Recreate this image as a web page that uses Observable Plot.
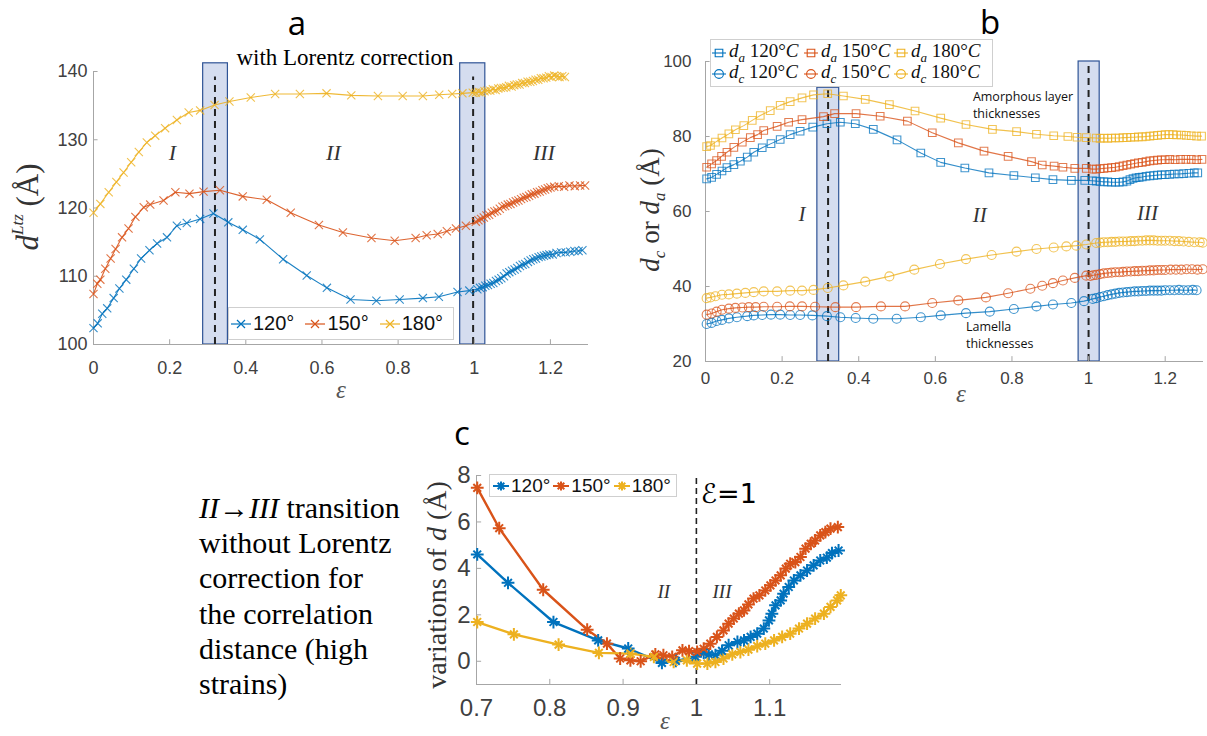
<!DOCTYPE html>
<html><head><meta charset="utf-8">
<script src="https://cdn.jsdelivr.net/npm/d3@7"></script>
<script src="https://cdn.jsdelivr.net/npm/@observablehq/plot@0.6"></script>
<style>
body{margin:0;background:#fff}
#root{position:relative;width:1207px;height:736px;overflow:hidden;background:#fff}
.t{position:absolute;white-space:nowrap;line-height:1.2}
.leg{position:absolute;background:#fff;border:1px solid #cfcfcf;box-sizing:border-box;display:flex;align-items:center}
.item{display:flex;align-items:center;white-space:nowrap}
svg.sw{display:block}
</style>
</head><body><div id="root"></div>
<script>
// ---------- DATA ----------
const temps = ["120", "150", "180"];
const colors = ["#0072BD", "#D95319", "#EDB120"];

// Panel a : d^Ltz vs strain (with Lorentz correction)
const a120 = [[0,102.4],[0.011,103.1],[0.023,104.5],[0.036,105.3],[0.053,106.8],[0.068,108.2],[0.086,109.5],[0.106,111.1],[0.125,112.6],[0.147,113.8],[0.167,114.8],[0.193,115.7],[0.219,117.4],[0.245,117.8],[0.280,118.4],[0.315,119.2],[0.354,117.9],[0.392,116.8],[0.437,115.4],[0.498,112.5],[0.560,110.1],[0.613,108.3],[0.675,106.6],[0.743,106.4],[0.804,106.6],[0.865,106.8],[0.907,107.0],[0.956,107.7],[0.987,107.9],
[1.008,108.1],[1.015,108.3],[1.022,108.4],[1.029,108.6],[1.036,108.7],[1.043,108.9],[1.050,109.0],[1.057,109.3],[1.064,109.5],[1.071,109.7],[1.078,110.0],[1.085,110.4],[1.092,110.6],[1.099,110.8],[1.106,111.0],[1.113,111.2],[1.120,111.5],[1.127,111.7],[1.134,111.8],[1.141,112.1],[1.148,112.3],[1.155,112.5],[1.162,112.6],[1.169,112.8],[1.176,112.9],[1.183,113.0],[1.190,113.1],[1.197,113.2],[1.206,113.2],[1.216,113.4],[1.228,113.5],[1.240,113.5],[1.252,113.6],[1.263,113.7],[1.274,113.7],[1.284,113.8]];
const a150 = [[0,107.4],[0.010,108.9],[0.018,109.5],[0.031,111.1],[0.045,112.6],[0.058,114.0],[0.075,115.7],[0.092,117.0],[0.110,118.7],[0.132,120.1],[0.149,120.5],[0.184,121.1],[0.215,122.3],[0.252,122.1],[0.289,122.4],[0.332,122.6],[0.392,121.7],[0.455,121.2],[0.518,119.3],[0.592,117.5],[0.655,116.4],[0.730,115.6],[0.791,115.2],[0.846,115.6],[0.875,116.0],[0.904,116.2],[0.928,116.6],[0.952,117.0],[0.978,117.4],
[1.004,118.0],[1.011,118.2],[1.018,118.4],[1.025,118.6],[1.032,118.9],[1.039,119.0],[1.046,119.3],[1.053,119.5],[1.060,119.6],[1.067,119.9],[1.074,120.2],[1.081,120.3],[1.088,120.5],[1.095,120.6],[1.102,120.8],[1.109,121.0],[1.116,121.1],[1.123,121.3],[1.130,121.5],[1.137,121.6],[1.144,121.8],[1.151,122.0],[1.158,122.1],[1.165,122.3],[1.172,122.4],[1.179,122.6],[1.186,122.7],[1.193,122.9],[1.200,123.0],[1.210,123.1],[1.222,123.2],[1.236,123.1],[1.250,123.3],[1.264,123.2],[1.278,123.3],[1.291,123.3]];
const a180 = [[0,119.3],[0.018,120.6],[0.040,122.3],[0.060,123.8],[0.079,125.2],[0.099,126.7],[0.119,128.2],[0.140,129.6],[0.162,130.6],[0.188,131.7],[0.219,132.9],[0.250,134.0],[0.280,134.3],[0.318,135.1],[0.357,135.6],[0.413,136.2],[0.477,136.7],[0.542,136.7],[0.612,136.8],[0.677,136.5],[0.747,136.4],[0.812,136.4],[0.865,136.4],[0.908,136.6],[0.942,136.7],[0.969,136.8],[0.996,136.9],
[1.004,136.9],[1.012,137.0],[1.019,136.9],[1.027,137.1],[1.034,137.2],[1.042,137.2],[1.049,137.4],[1.056,137.3],[1.063,137.5],[1.070,137.6],[1.077,137.6],[1.084,137.7],[1.091,137.9],[1.098,137.8],[1.105,138.0],[1.112,138.1],[1.119,138.1],[1.126,138.3],[1.133,138.3],[1.140,138.5],[1.147,138.5],[1.154,138.6],[1.161,138.8],[1.168,138.8],[1.175,139.0],[1.182,139.0],[1.189,139.1],[1.196,139.3],[1.203,139.2],[1.210,139.4],[1.217,139.3],[1.224,139.2],[1.231,139.3],[1.238,139.2]];
const bandsA = [{x1:0.288, x2:0.353, mid:0.319, top:141.2}, {x1:0.963, x2:1.029, mid:0.997, top:141.2}];
const ticksAx = [0, 0.2, 0.4, 0.6, 0.8, 1, 1.2];
const ticksAy = [100, 110, 120, 130, 140];

// Panel b : amorphous (da) and lamella (dc) thicknesses
const da120 = [[0.003,68.7],[0.016,69.1],[0.029,69.9],[0.043,70.8],[0.056,71.7],[0.074,72.5],[0.091,73.4],[0.109,74.5],[0.126,75.8],[0.148,77.0],[0.171,78.1],[0.195,79.2],[0.221,80.5],[0.247,81.4],[0.280,82.5],[0.317,83.4],[0.352,83.8],[0.391,83.4],[0.438,81.9],[0.500,79.1],[0.562,75.6],[0.614,73.1],[0.677,71.6],[0.740,70.3],[0.805,69.6],[0.861,69.0],[0.907,68.5],[0.955,68.3],[0.990,68.3],
[1.010,68.2],[1.020,68.1],[1.030,68.0],[1.040,67.9],[1.050,67.9],[1.060,67.8],[1.070,67.8],[1.080,67.8],[1.090,67.9],[1.100,68.1],[1.108,68.5],[1.116,68.8],[1.124,69.0],[1.132,69.1],[1.140,69.2],[1.150,69.4],[1.160,69.5],[1.170,69.6],[1.180,69.7],[1.190,69.8],[1.200,69.8],[1.212,69.9],[1.224,70.0],[1.236,70.0],[1.248,70.1],[1.262,70.2],[1.276,70.3],[1.285,70.3]];
const da150 = [[0.003,71.8],[0.016,72.7],[0.029,73.6],[0.042,74.7],[0.056,75.8],[0.074,77.1],[0.096,78.5],[0.117,79.7],[0.136,80.5],[0.152,81.6],[0.187,82.7],[0.217,83.8],[0.252,84.5],[0.308,85.3],[0.337,86.1],[0.393,86.1],[0.456,85.4],[0.527,84.1],[0.592,81.0],[0.660,78.3],[0.727,76.1],[0.790,74.7],[0.851,73.3],[0.879,72.4],[0.910,72.1],[0.933,71.8],[0.964,71.5],[0.994,71.5],
[1.010,71.3],[1.020,71.3],[1.030,71.4],[1.040,71.5],[1.050,71.6],[1.060,71.7],[1.070,71.8],[1.080,72.0],[1.090,72.2],[1.100,72.4],[1.110,72.6],[1.120,72.8],[1.130,73.0],[1.140,73.1],[1.150,73.3],[1.160,73.5],[1.170,73.6],[1.180,73.7],[1.190,73.8],[1.200,73.8],[1.212,73.9],[1.226,73.8],[1.240,73.9],[1.254,73.9],[1.268,73.9],[1.282,73.8],[1.296,73.9]];
const da180 = [[0.003,77.3],[0.013,77.6],[0.026,78.5],[0.043,79.6],[0.061,80.7],[0.078,81.8],[0.100,82.9],[0.122,84.3],[0.143,85.6],[0.169,86.9],[0.195,88.3],[0.221,89.3],[0.252,90.3],[0.282,91.1],[0.319,91.4],[0.360,90.8],[0.417,89.9],[0.480,88.5],[0.547,86.8],[0.614,84.9],[0.680,83.2],[0.749,81.9],[0.812,81.3],[0.864,80.6],[0.909,80.2],[0.946,80.0],[0.970,79.8],[0.994,79.7],
[1.020,79.6],[1.030,79.5],[1.040,79.6],[1.050,79.5],[1.060,79.6],[1.070,79.6],[1.080,79.6],[1.090,79.7],[1.100,79.7],[1.110,79.8],[1.120,79.8],[1.130,79.9],[1.140,79.9],[1.150,80.0],[1.160,80.1],[1.170,80.2],[1.180,80.3],[1.190,80.4],[1.200,80.5],[1.210,80.5],[1.220,80.5],[1.230,80.4],[1.242,80.4],[1.255,80.3],[1.268,80.2],[1.282,80.1],[1.295,80.1]];
const dc120 = [[0.003,30.0],[0.016,30.3],[0.029,30.8],[0.043,31.1],[0.061,31.5],[0.082,31.8],[0.109,32.1],[0.126,32.3],[0.148,32.4],[0.171,32.5],[0.195,32.5],[0.221,32.4],[0.247,32.4],[0.279,32.3],[0.317,32.1],[0.352,31.8],[0.392,31.6],[0.438,31.4],[0.499,31.4],[0.562,31.8],[0.614,32.3],[0.680,32.9],[0.742,33.3],[0.805,34.0],[0.864,34.7],[0.907,35.2],[0.955,35.6],[0.988,36.1],[1.011,36.7],
[1.020,36.9],[1.030,37.2],[1.040,37.4],[1.050,37.7],[1.060,37.9],[1.070,38.1],[1.080,38.3],[1.090,38.4],[1.100,38.5],[1.110,38.6],[1.120,38.7],[1.130,38.7],[1.140,38.8],[1.150,38.8],[1.160,38.9],[1.170,38.9],[1.180,38.9],[1.190,38.9],[1.200,39.0],[1.212,39.0],[1.224,39.0],[1.236,39.1],[1.248,39.0],[1.260,39.0],[1.272,39.1],[1.282,39.0]];
const dc150 = [[0.003,32.5],[0.016,32.8],[0.029,33.3],[0.043,33.8],[0.061,34.1],[0.078,34.3],[0.096,34.4],[0.113,34.5],[0.131,34.5],[0.152,34.6],[0.187,34.6],[0.220,34.7],[0.252,34.7],[0.286,34.6],[0.339,34.5],[0.393,34.5],[0.458,34.7],[0.521,34.7],[0.592,35.6],[0.660,36.3],[0.732,37.1],[0.790,38.2],[0.848,39.4],[0.879,40.2],[0.907,40.9],[0.933,41.6],[0.964,42.3],[0.994,42.9],
[1.005,42.8],[1.012,43.0],[1.020,43.1],[1.030,43.3],[1.040,43.5],[1.050,43.6],[1.060,43.7],[1.070,43.8],[1.080,43.8],[1.090,43.9],[1.100,44.0],[1.110,44.0],[1.120,44.1],[1.130,44.1],[1.140,44.2],[1.150,44.2],[1.160,44.3],[1.170,44.3],[1.180,44.4],[1.190,44.4],[1.200,44.4],[1.214,44.5],[1.228,44.5],[1.242,44.5],[1.256,44.6],[1.270,44.6],[1.284,44.5],[1.298,44.6]];
const dc180 = [[0.003,36.9],[0.013,37.1],[0.026,37.4],[0.043,37.8],[0.061,37.9],[0.082,38.1],[0.104,38.3],[0.126,38.5],[0.152,38.7],[0.187,38.7],[0.221,38.9],[0.252,38.9],[0.282,39.1],[0.319,39.6],[0.360,40.3],[0.417,41.3],[0.480,42.7],[0.545,44.5],[0.612,46.0],[0.680,47.3],[0.747,48.4],[0.812,49.3],[0.864,50.0],[0.909,50.4],[0.942,50.7],[0.968,50.9],[0.994,51.2],[1.020,51.6],
[1.030,51.7],[1.040,51.8],[1.050,51.8],[1.060,51.9],[1.070,51.9],[1.080,52.0],[1.090,52.0],[1.100,52.0],[1.110,52.1],[1.120,52.1],[1.130,52.2],[1.140,52.2],[1.150,52.3],[1.160,52.3],[1.170,52.3],[1.180,52.2],[1.190,52.2],[1.200,52.2],[1.212,52.2],[1.224,52.1],[1.236,52.1],[1.248,52.0],[1.262,51.9],[1.276,51.8],[1.290,51.8],[1.298,51.7]];
const bandsB = [{x1:0.292, x2:0.349, mid:0.320, top:93}, {x1:0.974, x2:1.029, mid:1.0, top:100}];
const ticksBx = [0, 0.2, 0.4, 0.6, 0.8, 1, 1.2];
const ticksBy = [20, 40, 60, 80, 100];

// Panel c : variations of d without Lorentz correction
const c120 = [[0.701,4.60],[0.743,3.38],[0.805,1.69],[0.866,0.90],[0.907,0.55],[0.953,-0.07],[0.972,0.02],[0.999,0.19],[1.010,0.36],[1.017,0.30],[1.026,0.26],[1.035,0.45],[1.044,0.69],[1.056,0.83],[1.065,0.90],[1.074,1.05],[1.083,1.19],[1.092,1.41],[1.099,1.76],[1.103,2.05],[1.108,2.41],[1.115,2.62],[1.119,2.91],[1.126,3.20],[1.133,3.48],[1.142,3.70],[1.151,3.91],[1.160,4.13],[1.169,4.34],[1.178,4.46],[1.185,4.66],[1.194,4.77]];
const c150 = [[0.701,7.47],[0.731,5.73],[0.791,3.08],[0.851,1.36],[0.878,0.76],[0.896,0.12],[0.910,0.04],[0.924,0.00],[0.944,0.30],[0.955,0.26],[0.967,0.19],[0.981,0.47],[0.990,0.44],[1.001,0.40],[1.010,0.54],[1.019,0.76],[1.028,1.05],[1.037,1.33],[1.044,1.62],[1.051,1.84],[1.058,2.05],[1.065,2.19],[1.071,2.45],[1.078,2.70],[1.086,2.84],[1.094,3.05],[1.101,3.27],[1.108,3.48],[1.115,3.70],[1.122,3.99],[1.128,4.20],[1.135,4.27],[1.142,4.49],[1.149,4.85],[1.156,5.06],[1.162,5.20],[1.169,5.42],[1.176,5.56],[1.183,5.71],[1.193,5.78]];
const c180 = [[0.701,1.69],[0.751,1.16],[0.812,0.72],[0.867,0.36],[0.910,0.33],[0.942,0.19],[0.969,-0.03],[0.987,0.04],[1.001,-0.10],[1.015,-0.10],[1.026,-0.03],[1.037,0.12],[1.049,0.30],[1.060,0.40],[1.071,0.50],[1.083,0.65],[1.094,0.76],[1.106,0.90],[1.117,1.05],[1.128,1.19],[1.140,1.41],[1.151,1.62],[1.162,1.84],[1.174,2.05],[1.183,2.34],[1.192,2.62],[1.197,2.84]];
const ticksCx = [0.7, 0.8, 0.9, 1, 1.1];
const ticksCy = [0, 2, 4, 6, 8];

// ---------- helpers ----------
const root = document.getElementById("root");
const AX = "#404040", AXLINE = "#a6a6a6", BANDFILL = "#d5ddef", BANDSTROKE = "#2f5496";
const rows = (pts, s) => pts.map(([x, y]) => ({x, y, s}));
const colorScale = {domain: temps, range: colors};
const sansFont = "'Liberation Sans', Arial, sans-serif";
const serif = "'Liberation Serif', 'Times New Roman', serif";

function place(svg, left, top) {
  svg.style.position = "absolute";
  svg.style.left = left + "px";
  svg.style.top = top + "px";
  svg.style.background = "transparent";
  svg.style.overflow = "visible";
  root.appendChild(svg);
}
function text(html, x, y, css, rot) {
  const d = document.createElement("div");
  d.className = "t";
  d.innerHTML = html;
  d.style.cssText += css;
  d.style.left = x + "px";
  d.style.top = y + "px";
  d.style.transform = "translate(-50%,-50%)" + (rot ? ` rotate(${rot}deg)` : "");
  root.appendChild(d);
}
const symPaths = {
  times: "M-4,-4L4,4M-4,4L4,-4",
  square: "M-3.8,-3.8H3.8V3.8H-3.8Z",
  circle: "M4.4,0A4.4,4.4 0 1 1 -4.4,0A4.4,4.4 0 1 1 4.4,0",
  asterisk: "M-4.5,0H4.5M0,-4.5V4.5M-3.3,-3.3L3.3,3.3M-3.3,3.3L3.3,-3.3"
};
function swatch(color, sym, w, sw) {
  return `<svg class="sw" width="${w}" height="20" viewBox="0 0 ${w} 20"><line x1="1" x2="${w-1}" y1="10" y2="10" stroke="${color}" stroke-width="${sw}"/><path transform="translate(${w/2},10)" d="${symPaths[sym]}" fill="none" stroke="${color}" stroke-width="${sw}"/></svg>`;
}

// ---------- Panel a ----------
const dataA = [...rows(a120, "120"), ...rows(a150, "150"), ...rows(a180, "180")];
const pa = Plot.plot({
  width: 600, height: 380, marginLeft: 93, marginRight: 12, marginTop: 31, marginBottom: 76,
  x: {domain: [0, 1.3], label: null}, y: {domain: [100, 140], label: null},
  color: colorScale,
  style: {fontFamily: sansFont, fontSize: "18px", color: AX, background: "transparent"},
  marks: [
    Plot.rect(bandsA, {x1: "x1", x2: "x2", y1: 100, y2: "top", fill: BANDFILL, stroke: BANDSTROKE, strokeWidth: 1.2}),
    Plot.ruleX(bandsA, {x: "mid", y1: 100, y2: 139.2, stroke: "#222", strokeWidth: 2, strokeDasharray: "7,5"}),
    Plot.ruleY([100], {stroke: AXLINE}),
    Plot.ruleX([0], {stroke: AXLINE}),
    Plot.ruleX(ticksAx, {y1: 100, y2: 100.7, stroke: AXLINE}),
    Plot.ruleY(ticksAy, {x1: 0, x2: 0.012, stroke: AXLINE}),
    Plot.line(dataA, {x: "x", y: "y", z: "s", stroke: "s", strokeWidth: 1.1, strokeOpacity: 0.9}),
    Plot.dot(dataA, {x: "x", y: "y", stroke: "s", symbol: "times", r: 3.8, strokeWidth: 1.1, strokeOpacity: 0.8}),
    Plot.text([{x: 0.207, y: 128.1, t: "I"}, {x: 0.63, y: 128.1, t: "II"}, {x: 1.183, y: 128.1, t: "III"}],
      {x: "x", y: "y", text: "t", fontFamily: serif, fontStyle: "italic", fontSize: 22, fill: "#333"}),
    Plot.axisX({ticks: ticksAx, tickFormat: d => String(d), tickSize: 0, tickPadding: 17, fontSize: 18, color: AX, label: null}),
    Plot.axisY({ticks: ticksAy, tickFormat: d => String(d), tickSize: 0, tickPadding: 6, fontSize: 18, color: AX, label: null})
  ]
});
place(pa, 0, 40);

// ---------- Panel b ----------
const dataBa = [...rows(da120, "120"), ...rows(da150, "150"), ...rows(da180, "180")];
const dataBc = [...rows(dc120, "120"), ...rows(dc150, "150"), ...rows(dc180, "180")];
const pb = Plot.plot({
  width: 607, height: 380, marginLeft: 105, marginRight: 4, marginTop: 31, marginBottom: 49,
  x: {domain: [0, 1.3], label: null}, y: {domain: [20, 100], label: null},
  color: colorScale,
  style: {fontFamily: sansFont, fontSize: "17px", color: AX, background: "transparent"},
  marks: [
    Plot.rect(bandsB, {x1: "x1", x2: "x2", y1: 20, y2: "top", fill: BANDFILL, stroke: BANDSTROKE, strokeWidth: 1.2}),
    Plot.ruleX(bandsB, {x: "mid", y1: 20, y2: "top", stroke: "#222", strokeWidth: 2, strokeDasharray: "7,5"}),
    Plot.ruleY([20], {stroke: AXLINE}),
    Plot.ruleX([0], {stroke: AXLINE}),
    Plot.ruleX(ticksBx, {y1: 20, y2: 21.3, stroke: AXLINE}),
    Plot.ruleY(ticksBy, {x1: 0, x2: 0.012, stroke: AXLINE}),
    Plot.line(dataBa, {x: "x", y: "y", z: "s", stroke: "s", strokeWidth: 1.1, strokeOpacity: 0.8}),
    Plot.line(dataBc, {x: "x", y: "y", z: "s", stroke: "s", strokeWidth: 1.1, strokeOpacity: 0.8}),
    Plot.dot(dataBa, {x: "x", y: "y", stroke: "s", fill: "none", symbol: "square", r: 4.3, strokeWidth: 1.1, strokeOpacity: 0.75}),
    Plot.dot(dataBc, {x: "x", y: "y", stroke: "s", fill: "none", symbol: "circle", r: 4.5, strokeWidth: 1.1, strokeOpacity: 0.75}),
    Plot.text([{x: 0.252, y: 59.2, t: "I"}, {x: 0.716, y: 59.0, t: "II"}, {x: 1.154, y: 59.4, t: "III"}],
      {x: "x", y: "y", text: "t", fontFamily: serif, fontStyle: "italic", fontSize: 21, fill: "#333"}),
    Plot.text([{x: 0.698, y: 88.7, t: "Amorphous layer\nthicknesses"}, {x: 0.680, y: 27.4, t: "Lamella\nthicknesses"}],
      {x: "x", y: "y", text: "t", textAnchor: "start", lineHeight: 1.35, fontFamily: "'Open Sans', sans-serif", fontSize: 12.5, fill: "#111"}),
    Plot.axisX({ticks: ticksBx, tickFormat: d => String(d), tickSize: 0, tickPadding: 10, fontSize: 17, color: AX, label: null}),
    Plot.axisY({ticks: ticksBy, tickFormat: d => String(d), tickSize: 0, tickPadding: 14, fontSize: 17, color: AX, label: null})
  ]
});
place(pb, 600, 30);

// ---------- Panel c ----------
const dataC = [...rows(c120, "120"), ...rows(c150, "150"), ...rows(c180, "180")];
const pc = Plot.plot({
  width: 460, height: 296, marginLeft: 76, marginRight: 19, marginTop: 35, marginBottom: 52,
  x: {domain: [0.7, 1.198], label: null}, y: {domain: [-1, 8], label: null},
  color: colorScale,
  style: {fontFamily: sansFont, fontSize: "24px", color: AX, background: "transparent"},
  marks: [
    Plot.ruleY([-1], {stroke: AXLINE}),
    Plot.ruleX([0.7], {stroke: AXLINE}),
    Plot.ruleX(ticksCx, {y1: -1, y2: -0.78, stroke: AXLINE}),
    Plot.ruleY(ticksCy, {x1: 0.7, x2: 0.707, stroke: AXLINE}),
    Plot.ruleX([1], {y1: -1, y2: 8, stroke: "#222", strokeWidth: 1.6, strokeDasharray: "6,4"}),
    Plot.line(dataC, {x: "x", y: "y", z: "s", stroke: "s", strokeWidth: 2.4}),
    Plot.dot(dataC, {x: "x", y: "y", stroke: "s", symbol: "plus", r: 4.2, strokeWidth: 2}),
    Plot.dot(dataC, {x: "x", y: "y", stroke: "s", symbol: "times", r: 3.6, strokeWidth: 2}),
    Plot.text([{x: 0.9555, y: 2.98, t: "II"}, {x: 1.035, y: 2.98, t: "III"}],
      {x: "x", y: "y", text: "t", fontFamily: serif, fontStyle: "italic", fontSize: 19, fill: "#333"}),
    Plot.text([{x: 1.006, y: 7.2, t: "ℰ=1"}],
      {x: "x", y: "y", text: "t", textAnchor: "start", fontFamily: "'DejaVu Sans', sans-serif", fontSize: 27, fill: "#000"}),
    Plot.axisX({ticks: ticksCx, tickFormat: d => String(d), tickSize: 0, tickPadding: 14, fontSize: 24, color: AX, label: null}),
    Plot.axisY({ticks: ticksCy, tickFormat: d => String(d), tickSize: 0, tickPadding: 6, fontSize: 24, color: AX, label: null})
  ]
});
place(pc, 400, 440);

// ---------- Titles, axis labels, notes ----------
const letterCss = `font-family:'Open Sans',sans-serif;font-size:33px;line-height:1;color:#000;`;
text("a", 297, 22, letterCss);
text("b", 990, 21, letterCss);
text("c", 462, 432, letterCss);
text("with Lorentz correction", 345, 58, `font-family:${serif};font-size:23px;color:#000;`);

text(`<i>d</i><sup style="font-size:17px;position:relative;top:-4px"><i>Ltz</i></sup> (Å)`, 28, 207,
  `font-family:${serif};font-size:31px;color:#333;`, -90);
text(`<i>d</i><sub style="font-size:17px"><i>c</i></sub> or <i>d</i><sub style="font-size:17px"><i>a</i></sub> (Å)`, 652, 210,
  `font-family:${serif};font-size:27px;color:#333;`, -90);
text(`variations of <i>d</i> (Å)`, 437, 585, `font-family:${serif};font-size:28px;color:#333;`, -90);

const epsCss = `font-family:${serif};font-style:italic;font-size:25px;color:#555;`;
text("ε", 341, 390, epsCss);
text("ε", 961, 394, epsCss);
text("ε", 665, 721, epsCss);

// left note for panel c
const note = document.createElement("div");
note.style.cssText = `position:absolute;left:199px;top:490px;font-family:${serif};font-size:30px;line-height:35.2px;color:#000;white-space:nowrap;`;
note.innerHTML = `<i>II</i>→<i>III</i> transition<br>without Lorentz<br>correction for<br>the correlation<br>distance (high<br>strains)`;
root.appendChild(note);

// ---------- Legends ----------
// panel a
const legA = document.createElement("div");
legA.className = "leg";
legA.style.cssText += "left:228px;top:307px;width:226px;height:33px;padding-left:1px;gap:10px;";
legA.innerHTML = temps.map((t, i) =>
  `<div class="item">${swatch(colors[i], "times", 22, 1.2)}<span style="font-family:${sansFont};font-size:20px;color:#111;margin-left:1px">${t}°</span></div>`).join("");
root.appendChild(legA);

// panel b
const legB = document.createElement("div");
legB.className = "leg";
legB.style.cssText += "left:710px;top:39px;width:283px;height:48px;flex-direction:column;align-items:flex-start;justify-content:center;";
const legRow = (sym, sub) => `<div style="display:flex;height:21px;align-items:center">` + temps.map((t, i) =>
  `<div class="item" style="width:${[92, 90, 96][i]}px">${swatch(colors[i], sym, 16, 1.1)}<span style="font-family:${serif};font-size:19px;color:#111;margin-left:2px"><i>d</i><sub style="font-size:13px"><i>${sub}</i></sub> ${t}°<i>C</i></span></div>`).join("") + `</div>`;
legB.innerHTML = legRow("square", "a") + legRow("circle", "c");
root.appendChild(legB);

// panel c
const legC = document.createElement("div");
legC.className = "leg";
legC.style.cssText += "left:489px;top:474px;width:188px;height:23px;gap:2px;padding-left:2px;";
legC.innerHTML = temps.map((t, i) =>
  `<div class="item">${swatch(colors[i], "asterisk", 18, 2)}<span style="font-family:${sansFont};font-size:19px;color:#111;margin-left:1px">${t}°</span></div>`).join("");
root.appendChild(legC);
</script>
</body></html>
